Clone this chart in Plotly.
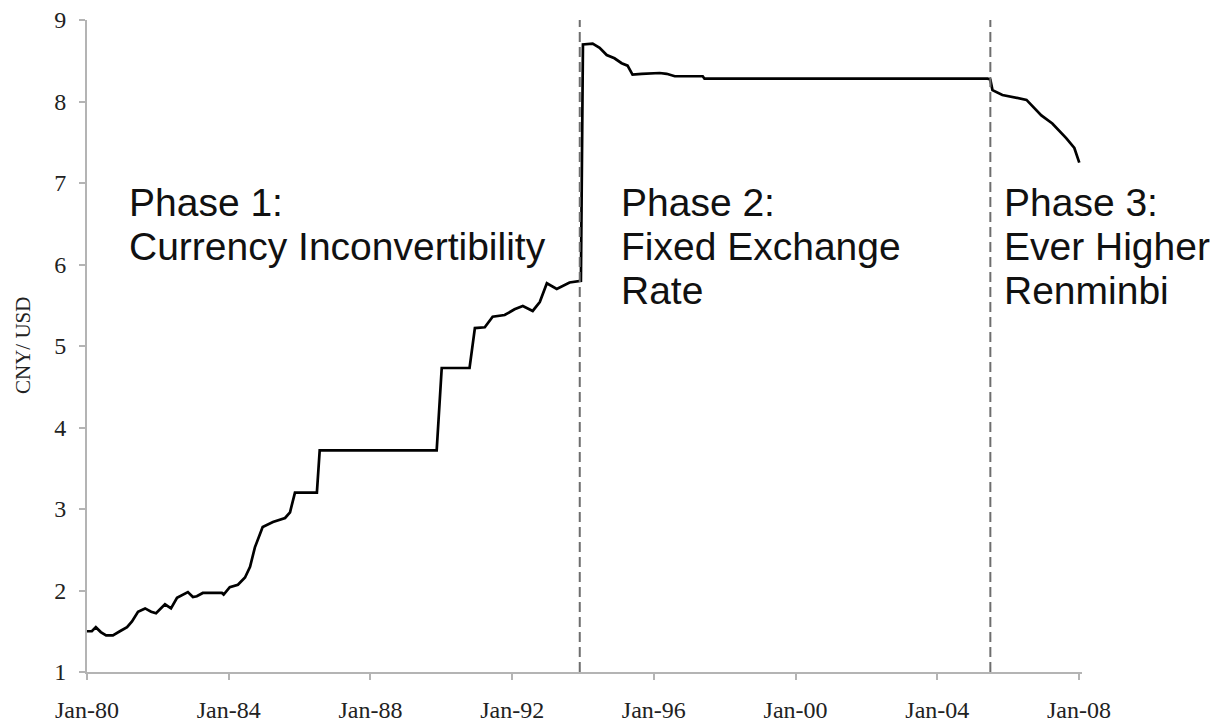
import plotly.graph_objects as go

# ---- data ----
dates = [
    "1980-01-01", "1980-02-20", "1980-04-01", "1980-05-22", "1980-07-16", "1980-09-24",
    "1980-12-05", "1981-02-17", "1981-04-09", "1981-06-10", "1981-08-22", "1981-10-23",
    "1981-12-13", "1982-03-15", "1982-05-16", "1982-07-17", "1982-11-06", "1982-12-28",
    "1983-02-06", "1983-04-09", "1983-10-23", "1983-11-10", "1984-01-12", "1984-04-05",
    "1984-06-17", "1984-08-08", "1984-09-27", "1984-12-16", "1985-04-01", "1985-08-04",
    "1985-09-24", "1985-11-14", "1986-06-28", "1986-07-27", "1989-11-14", "1990-01-05",
    "1990-10-19", "1990-12-13", "1991-03-25", "1991-06-14", "1991-10-16", "1992-01-26",
    "1992-04-20", "1992-07-31", "1992-10-12", "1992-12-24", "1993-04-05", "1993-08-15",
    "1993-12-10", "1993-12-31", "1994-04-10", "1994-06-21", "1994-09-02", "1994-11-21",
    "1995-02-03", "1995-04-05", "1995-05-26", "1995-08-29", "1996-03-01", "1996-05-12",
    "1996-08-04", "1997-05-19", "1997-06-06", "2005-06-03", "2005-07-01", "2005-07-23",
    "2005-11-02", "2006-03-07", "2006-07-09", "2006-12-09", "2007-04-01", "2007-08-22",
    "2007-11-14", "2008-01-04",
]
cny_per_usd = [
    1.50, 1.50, 1.55, 1.49, 1.45, 1.45,
    1.50, 1.55, 1.62, 1.74, 1.78, 1.74,
    1.72, 1.83, 1.78, 1.91, 1.98, 1.92,
    1.93, 1.97, 1.97, 1.95, 2.04, 2.07,
    2.16, 2.29, 2.53, 2.78, 2.84, 2.89,
    2.96, 3.20, 3.20, 3.72, 3.72, 4.73,
    4.73, 5.22, 5.23, 5.36, 5.38, 5.45,
    5.49, 5.43, 5.54, 5.77, 5.70, 5.78,
    5.80, 8.70, 8.71, 8.66, 8.57, 8.53,
    8.47, 8.44, 8.33, 8.34, 8.35, 8.34,
    8.31, 8.31, 8.28, 8.28, 8.27, 8.14,
    8.08, 8.05, 8.02, 7.83, 7.73, 7.55,
    7.43, 7.25,
]

phase_breaks = ["1993-11-28", "2005-07-01"]

phase_x = ["1981-02-15", "1995-01-05", "2005-11-01"]
phase_lines = [
    ["Phase 1:", "Currency Inconvertibility"],
    ["Phase 2:", "Fixed Exchange", "Rate"],
    ["Phase 3:", "Ever Higher", "Renminbi"],
]
line_y = [6.755, 6.215, 5.687]

y_ticks = [1, 2, 3, 4, 5, 6, 7, 8, 9]
x_tick0 = "1980-01-01"
y_title = "CNY/ USD"

# ---- figure ----
fig = go.Figure()
fig.add_trace(go.Scatter(
    x=dates, y=cny_per_usd, mode="lines",
    line=dict(color="#000000", width=2.7),
    showlegend=False, hoverinfo="skip",
))

for xb in phase_breaks:
    fig.add_shape(type="line", xref="x", yref="y", x0=xb, x1=xb, y0=1, y1=9,
                  line=dict(color="#6e6e6e", width=2, dash="10px,5px"))

for px, lines in zip(phase_x, phase_lines):
    for i, t in enumerate(lines):
        fig.add_annotation(x=px, y=line_y[i], xref="x", yref="y", text=t,
                           showarrow=False, xanchor="left", yanchor="middle",
                           font=dict(family="Liberation Sans", size=39, color="#111111"))

fig.add_annotation(x=-0.0643, y=0.5, xref="paper", yref="paper", text=y_title,
                   textangle=-90, showarrow=False, xanchor="center", yanchor="middle",
                   font=dict(family="Liberation Serif", size=21, color="#222222"))

fig.update_xaxes(
    type="date", range=["1980-01-01", "2008-02-01"], automargin=False,
    tick0=x_tick0, dtick="M48", tickformat="%b-%y",
    showline=True, linecolor="#b4b4b4", linewidth=2,
    ticks="outside", ticklen=6, tickwidth=2, tickcolor="#b4b4b4",
    showgrid=False, zeroline=False, ticklabelstandoff=9,
    ticklabeloverflow="allow",
    tickfont=dict(family="Liberation Serif", size=24, color="#222222"),
)
fig.update_yaxes(
    range=[1, 9], tickvals=y_ticks, automargin=False,
    showline=True, linecolor="#b4b4b4", linewidth=2,
    ticks="outside", ticklen=6, tickwidth=2, tickcolor="#b4b4b4",
    showgrid=False, zeroline=False, ticklabelstandoff=8,
    ticklabeloverflow="allow",
    tickfont=dict(family="Liberation Serif", size=24, color="#222222"),
)
fig.update_layout(
    width=1226, height=725,
    margin=dict(l=79, r=152, t=12, b=61),
    paper_bgcolor="white", plot_bgcolor="white",
)
fig.write_html("out.html")
